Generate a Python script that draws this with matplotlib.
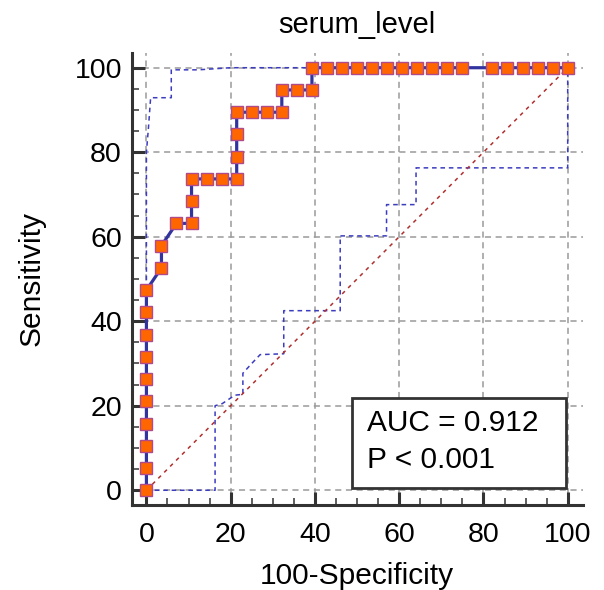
import matplotlib
matplotlib.use("Agg")
import matplotlib.pyplot as plt
from matplotlib.patches import Rectangle
from matplotlib.ticker import MultipleLocator

# ROC curve points (100-Specificity, Sensitivity), in %
spec = [0, 0, 0, 0, 0, 0, 0, 0, 0, 0,
        3.57, 3.57, 7.14, 10.71, 10.71, 10.71,
        14.29, 17.86, 21.43, 21.43, 21.43, 21.43,
        25.0, 28.57, 32.14, 32.14, 35.71, 39.29, 39.29,
        42.86, 46.43, 50.0, 53.57, 57.14, 60.71, 64.29, 67.86, 71.43, 75.0,
        82.14, 85.71, 89.29, 92.86, 96.43, 100]
sens = [0, 5.26, 10.53, 15.79, 21.05, 26.32, 31.58, 36.84, 42.11, 47.37,
        52.63, 57.89, 63.16, 63.16, 68.42, 73.68,
        73.68, 73.68, 73.68, 78.95, 84.21, 89.47,
        89.47, 89.47, 89.47, 94.74, 94.74, 94.74, 100,
        100, 100, 100, 100, 100, 100, 100, 100, 100, 100,
        100, 100, 100, 100, 100, 100]

# confidence bounds
upper_x = [0, 0, 0.5, 1.0, 5.9, 5.9, 12.3, 20.0, 100]
upper_y = [0, 80, 86, 92.9, 92.9, 99.5, 99.5, 100, 100]
lower_x = [0, 16.3, 16.3, 18.0, 21.0, 22.9, 22.9, 25.0, 27.0, 32.6, 32.6,
           46.0, 46.0, 57.0, 57.0, 64.0, 64.0, 100, 100]
lower_y = [0, 0, 20.0, 20.5, 22.5, 22.7, 27.7, 30.0, 32.1, 32.3, 42.5,
           42.5, 60.2, 60.2, 67.6, 67.6, 76.3, 76.3, 100]

ticks = [0, 20, 40, 60, 80, 100]
auc_lines = ["AUC = 0.912", "P < 0.001"]

plt.rcParams['font.family'] = ['Liberation Sans', 'DejaVu Sans']

fig = plt.figure(figsize=(6.04, 5.90), dpi=100)
ax = fig.add_axes([0.218, 0.144, 0.747, 0.767])

ax.set_xlim(-3.5, 103.6)
ax.set_ylim(-3.5, 103.6)
ax.set_xticks(ticks)
ax.set_yticks(ticks)
ax.xaxis.set_minor_locator(MultipleLocator(5))
ax.yaxis.set_minor_locator(MultipleLocator(5))

for s in ['top', 'right']:
    ax.spines[s].set_visible(False)
for s in ['left', 'bottom']:
    ax.spines[s].set_linewidth(2.2)
    ax.spines[s].set_color('#333333')

ax.tick_params(which='major', direction='in', length=9.5, width=2.2, color='#333333',
               labelsize=20.5, pad=12)
ax.tick_params(which='minor', direction='in', length=5, width=1.1, color='#333333')
ax.tick_params(axis='y', which='major', pad=7)

ax.grid(True, which='major', color='#9a9a9a', linestyle=(0, (4, 3)), linewidth=1.1)
ax.set_axisbelow(True)

ax.plot(upper_x, upper_y, color='#3c3cc0', linestyle=(0, (3, 2.5)), linewidth=1.1)
ax.plot(lower_x, lower_y, color='#3c3cc0', linestyle=(0, (3, 2.5)), linewidth=1.1)
ax.plot([0, 100], [0, 100], color='#b03030', linestyle=(0, (2.5, 3)), linewidth=1.1)

ax.plot(spec, sens, color='#3333a0', linewidth=2.3, zorder=3)
ax.plot(spec, sens, linestyle='none', marker='s', markersize=8.2,
        markerfacecolor='#ff6600', markeredgecolor='#b04a8a', markeredgewidth=1.0, zorder=4)

ax.set_title('serum_level', fontsize=21, pad=14)
ax.set_xlabel('100-Specificity', fontsize=21.5, labelpad=10)
ax.set_ylabel('Sensitivity', fontsize=21.5, labelpad=21)

# AUC box
box = Rectangle((48.9, 0.5), 50.8, 21.3, facecolor='white', edgecolor='#333333',
                linewidth=2.0, zorder=5)
ax.add_patch(box)
ax.text(52.4, 14.0, auc_lines[0], fontsize=21.5, ha='left', va='baseline', zorder=6)
ax.text(52.4, 5.3, auc_lines[1], fontsize=21.5, ha='left', va='baseline', zorder=6)

fig.savefig('out.png', dpi=100)
